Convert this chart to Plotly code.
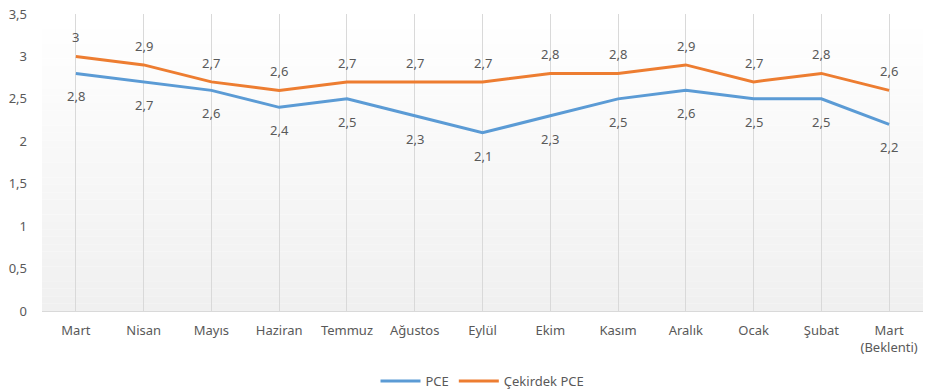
import plotly.graph_objects as go

categories = ["Mart", "Nisan", "Mayıs", "Haziran", "Temmuz", "Ağustos", "Eylül",
              "Ekim", "Kasım", "Aralık", "Ocak", "Şubat", "Mart<br>(Beklenti)"]
pce = [2.8, 2.7, 2.6, 2.4, 2.5, 2.3, 2.1, 2.3, 2.5, 2.6, 2.5, 2.5, 2.2]
core_pce = [3.0, 2.9, 2.7, 2.6, 2.7, 2.7, 2.7, 2.8, 2.8, 2.9, 2.7, 2.8, 2.6]
y_ticks = [0, 0.5, 1, 1.5, 2, 2.5, 3, 3.5]

BLUE = "#5B9BD5"
ORANGE = "#ED7D31"
TXT = "#595959"
FONT = "Noto Sans"
FS = 13


def fmt(v):
    s = f"{v:g}"
    return s.replace(".", ",")


fig = go.Figure()
fig.add_trace(go.Scatter(x=categories, y=pce, mode="lines", name="PCE",
                         line=dict(color=BLUE, width=3)))
fig.add_trace(go.Scatter(x=categories, y=core_pce, mode="lines", name="Çekirdek PCE",
                         line=dict(color=ORANGE, width=3)))

annotations = []
for c, v in zip(categories, core_pce):
    annotations.append(dict(x=c, y=v, text=fmt(v), showarrow=False, yshift=19,
                            font=dict(color=TXT, size=FS, family=FONT)))
for c, v in zip(categories, pce):
    annotations.append(dict(x=c, y=v, text=fmt(v), showarrow=False, yshift=-23,
                            font=dict(color=TXT, size=FS, family=FONT)))

# gradient background for the plot area
shapes = []
n = 40
for i in range(n):
    t = i / (n - 1)
    g = int(round(255 - (255 - 240) * t))
    shapes.append(dict(type="rect", xref="x domain", yref="y domain",
                       x0=0, x1=1, y0=1 - (i + 1) / n, y1=1 - i / n,
                       fillcolor=f"rgb({g},{g},{g})", line=dict(width=0),
                       layer="below"))

fig.update_layout(
    width=930, height=392,
    margin=dict(l=42, r=7, t=14, b=81, autoexpand=False),
    paper_bgcolor="white",
    plot_bgcolor="white",
    separators=", ",
    font=dict(family=FONT, color=TXT, size=FS),
    showlegend=True,
    hovermode=False,
    legend=dict(orientation="h", x=0.5, xanchor="center", y=-0.185, yanchor="top",
                font=dict(size=FS, color=TXT, family=FONT), itemwidth=40),
    annotations=annotations,
    shapes=shapes,
    xaxis=dict(range=[-0.5, 12.5], showgrid=True, gridcolor="#D9D9D9", gridwidth=1,
               showline=False, zeroline=False, ticks="", automargin=False,
               ticklabelstandoff=10, ticklabeloverflow="allow",
               tickfont=dict(size=FS, color=TXT, family=FONT)),
    yaxis=dict(range=[0, 3.5], tickvals=y_ticks, showgrid=False, zeroline=True,
               zerolinecolor="#D9D9D9", zerolinewidth=1, showline=False,
               ticks="", ticklabelstandoff=14, automargin=False,
               ticklabeloverflow="allow",
               tickfont=dict(size=FS, color=TXT, family=FONT)),
)

fig.write_html("out.html", config={"displayModeBar": False},
               post_script="document.body.style.margin='0';")
